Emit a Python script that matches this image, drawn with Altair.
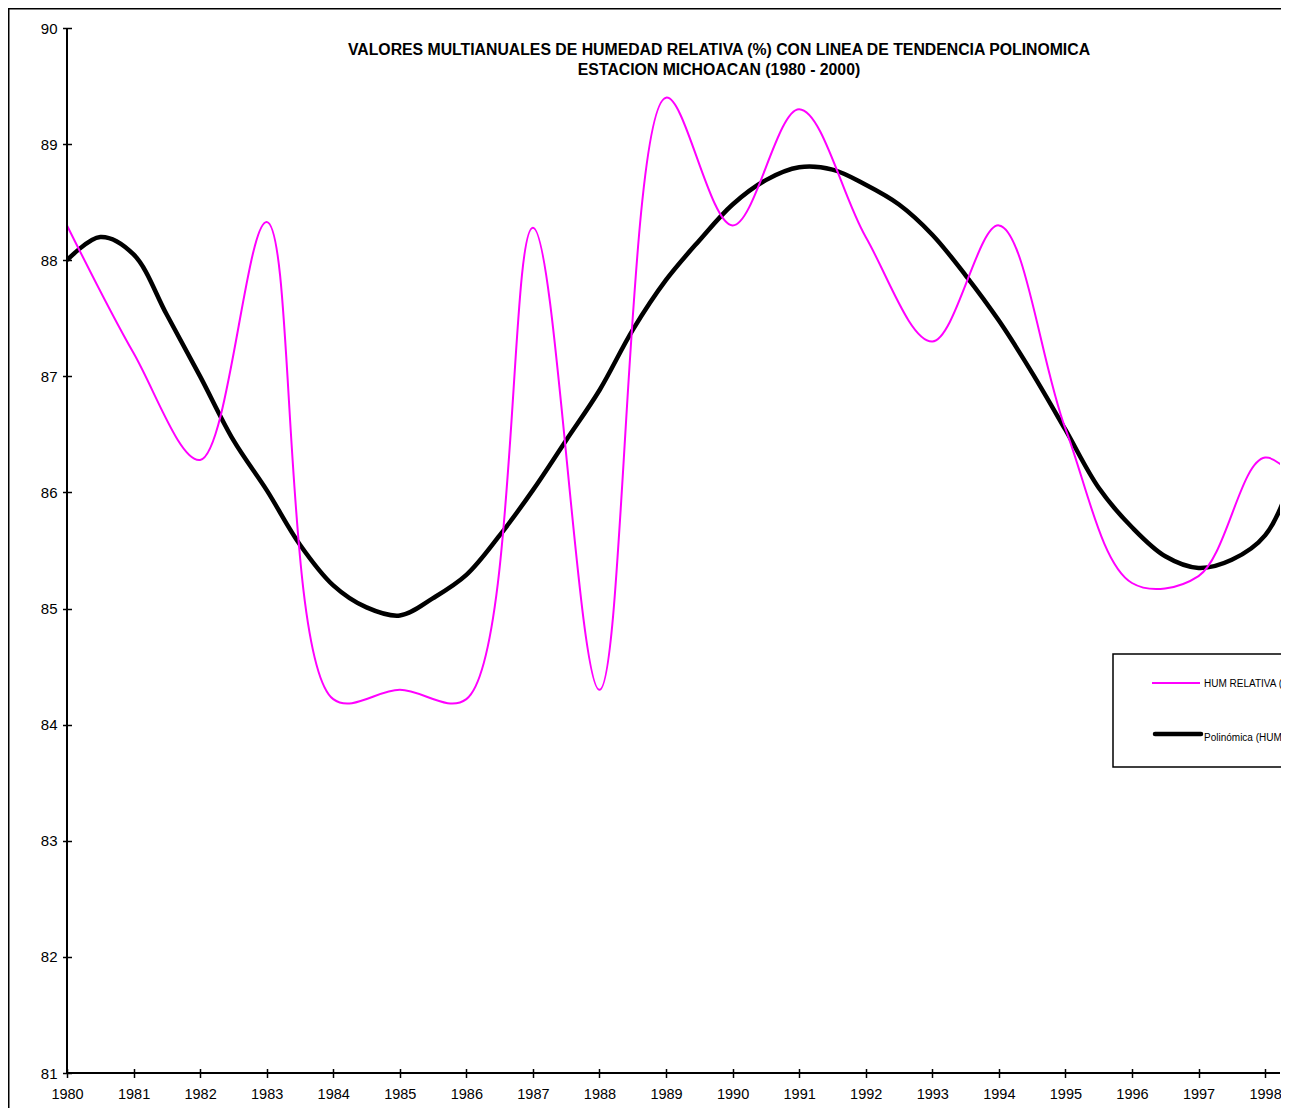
import altair as alt
import pandas as pd

# ---------------- data ----------------
years = [1980, 1981, 1982, 1983, 1984, 1985, 1986, 1987, 1988, 1989,
         1990, 1991, 1992, 1993, 1994, 1995, 1996, 1997, 1998, 1999]
humedad = [88.3, 87.2, 86.28, 88.33, 84.22, 84.3, 84.22, 88.28, 84.3, 89.4,
           88.3, 89.3, 88.2, 87.3, 88.3, 86.55, 85.22, 85.28, 86.3, 85.7]

tend_x = [1980, 1980.5, 1981, 1981.5, 1982, 1982.5, 1983, 1983.5, 1984, 1984.5,
          1985, 1985.5, 1986, 1986.5, 1987, 1987.5, 1988, 1988.5, 1989, 1989.5,
          1990, 1990.5, 1991, 1991.5, 1992, 1992.5, 1993, 1993.5, 1994, 1994.5,
          1995, 1995.5, 1996, 1996.5, 1997, 1997.5, 1998, 1998.5, 1999]
tend_y = [88.0, 88.2, 88.05, 87.53, 87.0, 86.45, 86.02, 85.55, 85.2, 85.01,
          84.94, 85.09, 85.29, 85.63, 86.02, 86.45, 86.88, 87.4, 87.83, 88.17,
          88.48, 88.69, 88.8, 88.78, 88.65, 88.48, 88.22, 87.87, 87.48, 87.03,
          86.54, 86.04, 85.7, 85.45, 85.35, 85.42, 85.63, 86.25, 87.0]

serie_hum = "HUM RELATIVA (%)"
serie_pol = "Polinómica (HUM RELATIVA (%))"
series = [serie_hum, serie_pol]
colors = ["#FF00FF", "#000000"]
widths = [2, 4.5]

x_ticks = [1980, 1981, 1982, 1983, 1984, 1985, 1986, 1987, 1988, 1989,
           1990, 1991, 1992, 1993, 1994, 1995, 1996, 1997, 1998]
y_ticks = [81, 82, 83, 84, 85, 86, 87, 88, 89, 90]

title_lines = ["VALORES MULTIANUALES DE HUMEDAD RELATIVA (%) CON LINEA DE TENDENCIA POLINOMICA",
               "ESTACION MICHOACAN (1980 - 2000)"]

df_hum = pd.DataFrame({"anio": years, "valor": humedad, "serie": serie_hum})
df_pol = pd.DataFrame({"anio": tend_x, "valor": tend_y, "serie": serie_pol})
one = pd.DataFrame({"k": [0]})

W, H = 1213, 1045
FONT = "Liberation Sans, Arial, sans-serif"

xscale = alt.Scale(domain=[1980, 1998.224], nice=False, zero=False)
yscale = alt.Scale(domain=[81, 90], nice=False, zero=False)

color = alt.Color("serie:N", scale=alt.Scale(domain=series, range=colors), legend=None)
swidth = alt.StrokeWidth("serie:N", scale=alt.Scale(domain=series, range=widths), legend=None)

xaxis = alt.Axis(values=x_ticks, format="d", offset=-4.5, tickSize=9, tickWidth=1.5,
                 tickColor="black", labelPadding=10, labelFlush=False,
                 labelOverlap=False, domain=False, grid=False,
                 labelFont=FONT, labelFontSize=14.5, labelColor="black")
yaxis = alt.Axis(values=y_ticks, format="d", offset=-4.5, tickSize=9, tickWidth=1.5,
                 tickColor="black", labelPadding=5.5, labelFlush=False,
                 labelOverlap=False, domain=False, grid=False,
                 labelFont=FONT, labelFontSize=15, labelColor="black")

# outer frame of the chart object
border = alt.Chart(one).mark_rect(fill=None, stroke="black", strokeWidth=1.5).encode(
    x=alt.value(-58.25), x2=alt.value(1400), y=alt.value(-19.25), y2=alt.value(1300))

title = alt.Chart(one).mark_text(
    align="center", baseline="alphabetic", lineHeight=20, fontSize=15.8,
    fontWeight="bold", font=FONT, color="black").encode(
    x=alt.value(652), y=alt.value(27), text=alt.value(title_lines))

line_pol = alt.Chart(df_pol).mark_line(interpolate="catmull-rom", clip=True).encode(
    x=alt.X("anio:Q", scale=xscale, axis=xaxis, title=None),
    y=alt.Y("valor:Q", scale=yscale, axis=yaxis, title=None),
    color=color, strokeWidth=swidth)

line_hum = alt.Chart(df_hum).mark_line(interpolate="catmull-rom", clip=True).encode(
    x=alt.X("anio:Q", scale=xscale, title=None),
    y=alt.Y("valor:Q", scale=yscale, title=None),
    color=color, strokeWidth=swidth)

yline = alt.Chart(one).mark_rule(color="black", strokeWidth=2).encode(
    x=alt.XDatum(1980, scale=xscale),
    y=alt.YDatum(81, scale=yscale), y2=alt.Y2Datum(90))

xline = alt.Chart(one).mark_rule(color="black", strokeWidth=2).encode(
    x=alt.value(0), x2=alt.value(W),
    y=alt.YDatum(81, scale=yscale))

# legend box (cut by the right edge, as in the reference)
leg_box = alt.Chart(one).mark_rect(fill="white", stroke="black", strokeWidth=1.5).encode(
    x=alt.value(1046), x2=alt.value(1400), y=alt.value(626), y2=alt.value(739))
leg_sym1 = alt.Chart(one).mark_rule(color=colors[0], strokeWidth=widths[0]).encode(
    x=alt.value(1085), x2=alt.value(1133), y=alt.value(655))
leg_sym2 = alt.Chart(one).mark_rule(color=colors[1], strokeWidth=widths[1], strokeCap="round").encode(
    x=alt.value(1088), x2=alt.value(1134), y=alt.value(706))
leg_txt1 = alt.Chart(one).mark_text(align="left", baseline="middle", fontSize=10,
                                    font=FONT, color="black").encode(
    x=alt.value(1137), y=alt.value(656), text=alt.value(serie_hum))
leg_txt2 = alt.Chart(one).mark_text(align="left", baseline="middle", fontSize=10,
                                    font=FONT, color="black").encode(
    x=alt.value(1137), y=alt.value(709.5), text=alt.value(serie_pol))

chart = alt.layer(border, title, line_pol, line_hum, yline, xline,
                  leg_box, leg_sym1, leg_sym2, leg_txt1, leg_txt2).properties(
    width=W, height=H,
    padding={"left": 59, "top": 20, "right": 1, "bottom": 35},
    autosize=alt.AutoSizeParams(type="none"),
).configure_view(stroke=None)

chart.save("out.html", embed_options={"renderer": "svg", "actions": False})
